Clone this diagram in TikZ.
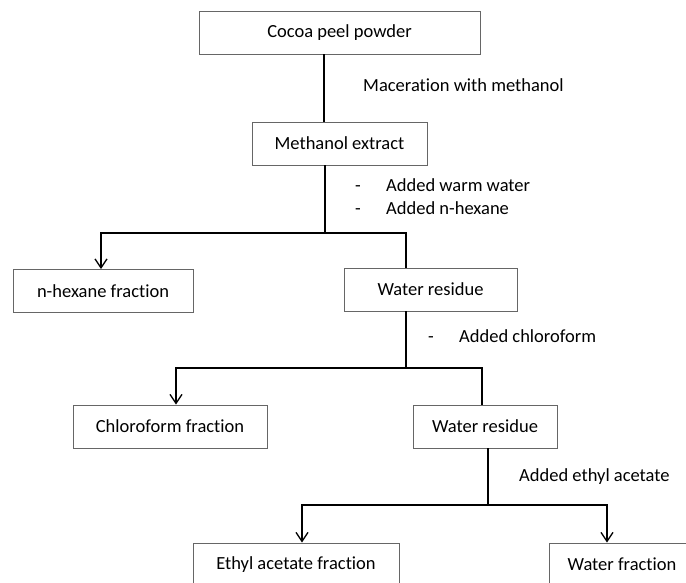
\documentclass[tikz,border=0pt]{standalone}
\usepackage{fontspec}
\setmainfont{Carlito}[Ligatures=NoCommon]
\usetikzlibrary{arrows.meta}

\begin{document}
\begin{tikzpicture}[x=1pt,y=-1pt,
  box/.style={draw=black!60, line width=0.9pt, minimum height=43pt, inner sep=0pt, font=\fontsize{18.5}{22}\selectfont},
  note/.style={anchor=west, inner sep=0pt, text height=13pt, text depth=4pt, font=\fontsize{18.5}{22}\selectfont},
  trunk/.style={line width=1.1pt},
  branch/.style={line width=1.7pt},
  tip/.style={-{Straight Barb[length=9pt,width=12pt,line width=1.3pt]}}
]
%set diagram to 686 x 582, lower boxes are cut at the bottom
\useasboundingbox (0,0) rectangle (686,582);
\clip (0,0) rectangle (686,582);

%Shape: Rectangle
\node [box, minimum width=281pt] (cocoa) at (339.5,32.5) {Cocoa peel powder};
\node [box, minimum width=175pt] (methanol) at (339.5,143.5) {Methanol extract};
\node [box, minimum width=180pt] (hexane) at (103,291) {n-hexane fraction};
\node [box, minimum width=173pt] (residueA) at (430.5,289.5) {Water residue};
\node [box, minimum width=194pt] (chloro) at (170,426.5) {Chloroform fraction};
\node [box, minimum width=144pt] (residueB) at (485,426.5) {Water residue};
\node [box, minimum width=206pt] (ethyl) at (296,564.5) {Ethyl acetate fraction};
\node [box, minimum width=146pt] (waterfr) at (622,564.5) {Water fraction};

%Straight Lines
\coordinate (splitA) at (325,233);
\coordinate (splitB) at (406,368);
\coordinate (splitC) at (488,505);
\draw [trunk] (cocoa.south -| 324,0) -- (methanol.north -| 324,0);
\draw [trunk] (methanol.south -| splitA) -- (splitA);
\draw [branch, tip] (splitA) -- (101,233) -- (hexane.north -| 101,0);
\draw [branch] (splitA) -- (406,233) -- (residueA.north -| 406,0);
\draw [trunk] (residueA.south -| splitB) -- (splitB);
\draw [branch, tip] (splitB) -- (176,368) -- (chloro.north -| 176,0);
\draw [branch] (splitB) -- (482,368) -- (residueB.north -| 482,0);
\draw [trunk] (residueB.south -| splitC) -- (splitC);
\draw [branch, tip] (splitC) -- (302,505) -- (ethyl.north -| 302,0);
\draw [branch, tip] (splitC) -- (607,505) -- (waterfr.north -| 607,0);

% Text Node
\node [note] (maceration) at (363,87) {Maceration with methanol};
% Text Node
\node [note] (dashA) at (355,187) {-};
\node [note] (warm) at (386,187) {Added warm water};
\node [note] (dashB) at (355,210) {-};
\node [note] (nhex) at (386,210) {Added n-hexane};
% Text Node
\node [note] (dashC) at (428,338) {-};
\node [note] (chlorof) at (459,338) {Added chloroform};
% Text Node
\node [note] (ethylac) at (519,477) {Added ethyl acetate};

\end{tikzpicture}
\end{document}
